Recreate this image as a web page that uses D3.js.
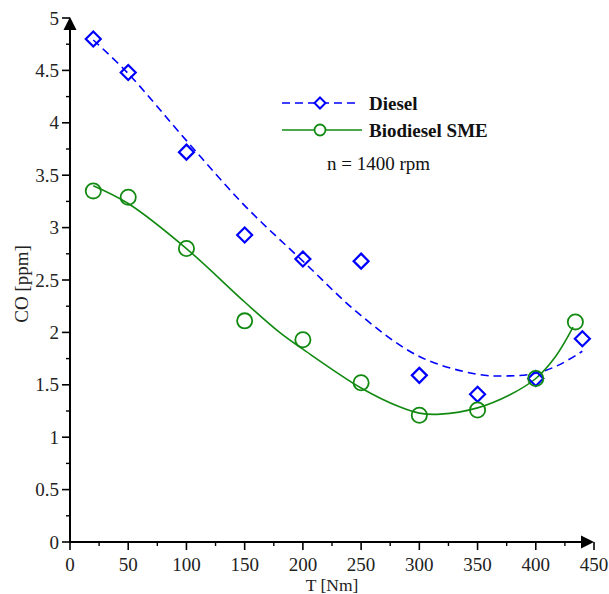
<!DOCTYPE html>
<html>
<head>
<meta charset="utf-8">
<script src="https://cdn.jsdelivr.net/npm/d3@7"></script>
<style>
  html, body { margin: 0; padding: 0; background: #fff; }
  svg { display: block; font-family: "Liberation Serif", "Times New Roman", serif; }
</style>
</head>
<body>
<svg id="chart" width="609" height="594"></svg>
<script>
// Measured loads [Nm] and CO concentration [ppm]
const dieselT   = [20, 50, 100, 150, 200, 250, 300, 350, 400, 440];
const dieselCO  = [4.80, 4.48, 3.72, 2.93, 2.70, 2.68, 1.59, 1.41, 1.56, 1.94];
const bioT      = [20, 50, 100, 150, 200, 250, 300, 350, 400, 434];
const bioCO     = [3.35, 3.29, 2.80, 2.11, 1.93, 1.52, 1.21, 1.26, 1.56, 2.10];

// Trend lines (fitted curves) sampled along T
const dieselFitT  = [20, 50, 100, 150, 200, 250, 300, 350, 377, 400, 420, 440];
const dieselFitCO = [4.79, 4.47, 3.83, 3.21, 2.68, 2.16, 1.77, 1.60, 1.585, 1.61, 1.69, 1.82];
const bioFitT     = [20, 50, 100, 150, 180, 200, 250, 283, 300, 318, 350, 377, 400, 417, 432];
const bioFitCO    = [3.40, 3.23, 2.80, 2.29, 2.00, 1.84, 1.47, 1.29, 1.23, 1.22, 1.28, 1.40, 1.56, 1.77, 2.05];

// Axis ticks
const xMajor = [0, 50, 100, 150, 200, 250, 300, 350, 400, 450];
const xMinor = [25, 75, 125, 175, 225, 275, 325, 375, 425];
const yMajor = [0, 0.5, 1, 1.5, 2, 2.5, 3, 3.5, 4, 4.5, 5];
const yMajorLabels = ["0", "0.5", "1", "1.5", "2", "2.5", "3", "3.5", "4", "4.5", "5"];
const yMinor = [0.25, 0.75, 1.25, 1.75, 2.25, 2.75, 3.25, 3.75, 4.25, 4.75];

const seriesNames = ["Diesel", "Biodiesel SME"];
const noteText = "n = 1400 rpm";
const xTitle = "T [Nm]";
const yTitle = "CO [ppm]";

const blue = "#0000ff";
const green = "#128a12";

const svg = d3.select("#chart");
const x = d3.scaleLinear().domain([0, 450]).range([70, 594]);
const y = d3.scaleLinear().domain([0, 5]).range([542, 18]);

// ---- axes ----
const axes = svg.append("g").attr("stroke", "#000");
axes.append("line").attr("x1", x(0) - 1).attr("x2", x(450) - 10)
  .attr("y1", y(0)).attr("y2", y(0)).attr("stroke-width", 2);
axes.append("line").attr("x1", x(0)).attr("x2", x(0))
  .attr("y1", y(0) + 1).attr("y2", y(5) + 10).attr("stroke-width", 2);

// arrowheads
svg.append("path")
  .attr("d", `M${x(450)},${y(0)} L${x(450) - 13},${y(0) - 6.5} L${x(450) - 13},${y(0) + 6.5} Z`)
  .attr("fill", "#000");
svg.append("path")
  .attr("d", `M${x(0)},${y(5) - 1} L${x(0) - 6.5},${y(5) + 12} L${x(0) + 6.5},${y(5) + 12} Z`)
  .attr("fill", "#000");

// x ticks
axes.selectAll(".xt").data(xMajor).join("line")
  .attr("x1", d => x(d)).attr("x2", d => x(d))
  .attr("y1", y(0)).attr("y2", y(0) + 8).attr("stroke-width", 1.6);
axes.selectAll(".xm").data(xMinor).join("line")
  .attr("x1", d => x(d)).attr("x2", d => x(d))
  .attr("y1", y(0)).attr("y2", y(0) + 4).attr("stroke-width", 1.4);

// y ticks
axes.selectAll(".yt").data(yMajor).join("line")
  .attr("x1", x(0) - 8).attr("x2", x(0))
  .attr("y1", d => y(d)).attr("y2", d => y(d)).attr("stroke-width", 1.6);
axes.selectAll(".ym").data(yMinor).join("line")
  .attr("x1", x(0) - 4).attr("x2", x(0))
  .attr("y1", d => y(d)).attr("y2", d => y(d)).attr("stroke-width", 1.4);

// tick labels
svg.append("g").selectAll("text").data(xMajor).join("text")
  .attr("x", d => x(d)).attr("y", y(0) + 28.5)
  .attr("text-anchor", "middle").attr("font-size", 19).attr("fill", "#222")
  .text(d => d);
svg.append("g").selectAll("text").data(yMajor).join("text")
  .attr("x", x(0) - 11).attr("y", d => y(d) + 6.5)
  .attr("text-anchor", "end").attr("font-size", 19).attr("fill", "#222")
  .text((d, i) => yMajorLabels[i]);

// axis titles
svg.append("text").attr("x", 332).attr("y", 590.5)
  .attr("text-anchor", "middle").attr("font-size", 17.5).attr("fill", "#222")
  .text(xTitle);
svg.append("text")
  .attr("transform", `translate(28,284) rotate(-90)`)
  .attr("text-anchor", "middle").attr("font-size", 19).attr("fill", "#222")
  .text(yTitle);

// ---- fitted curves ----
const line = d3.line().x(d => x(d[0])).y(d => y(d[1])).curve(d3.curveCatmullRom.alpha(0.5));
svg.append("path")
  .attr("d", line(d3.zip(dieselFitT, dieselFitCO)))
  .attr("fill", "none").attr("stroke", blue).attr("stroke-width", 1.6)
  .attr("stroke-dasharray", "8,5");
svg.append("path")
  .attr("d", line(d3.zip(bioFitT, bioFitCO)))
  .attr("fill", "none").attr("stroke", green).attr("stroke-width", 1.6);

// ---- markers ----
const diamond = (cx, cy, r) => `M${cx},${cy - r} L${cx + r},${cy} L${cx},${cy + r} L${cx - r},${cy} Z`;
svg.append("g").selectAll("path").data(d3.zip(dieselT, dieselCO)).join("path")
  .attr("d", d => diamond(x(d[0]), y(d[1]), 7.5))
  .attr("fill", "none").attr("stroke", blue).attr("stroke-width", 2.2);
svg.append("g").selectAll("circle").data(d3.zip(bioT, bioCO)).join("circle")
  .attr("cx", d => x(d[0])).attr("cy", d => y(d[1])).attr("r", 7.6)
  .attr("fill", "none").attr("stroke", green).attr("stroke-width", 1.8);

// ---- legend ----
const lg = svg.append("g");
lg.append("line").attr("x1", 282).attr("x2", 360).attr("y1", 103).attr("y2", 103)
  .attr("stroke", blue).attr("stroke-width", 1.6).attr("stroke-dasharray", "8,5");
lg.append("path").attr("d", diamond(320, 103, 5.5))
  .attr("fill", "#fff").attr("stroke", blue).attr("stroke-width", 2);
lg.append("line").attr("x1", 282).attr("x2", 362).attr("y1", 130).attr("y2", 130)
  .attr("stroke", green).attr("stroke-width", 1.6);
lg.append("circle").attr("cx", 320).attr("cy", 130).attr("r", 5.5)
  .attr("fill", "#fff").attr("stroke", green).attr("stroke-width", 1.8);
lg.append("text").attr("x", 369).attr("y", 109.5).attr("font-size", 19).attr("font-weight", "bold")
  .attr("fill", "#111").text(seriesNames[0]);
lg.append("text").attr("x", 369).attr("y", 136.5).attr("font-size", 19).attr("font-weight", "bold")
  .attr("fill", "#111").text(seriesNames[1]);
lg.append("text").attr("x", 327).attr("y", 170).attr("font-size", 19)
  .attr("fill", "#111").text(noteText);
</script>
</body>
</html>
